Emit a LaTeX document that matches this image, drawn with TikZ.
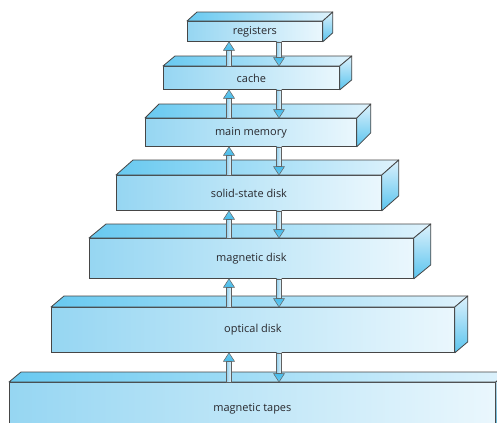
\documentclass[tikz,border=0pt]{standalone}
\usepackage{fontspec}
\setmainfont{Open Sans}
\usetikzlibrary{calc}
\definecolor{frontL}{RGB}{150,214,242}
\definecolor{frontR}{RGB}{234,247,253}
\definecolor{topL}{RGB}{104,201,240}
\definecolor{topR}{RGB}{222,242,252}
\definecolor{sideT}{RGB}{220,241,252}
\definecolor{sideB}{RGB}{90,196,238}
\definecolor{edge}{RGB}{70,70,70}
\definecolor{txt}{RGB}{40,40,45}
\definecolor{headblue}{RGB}{72,188,234}
\definecolor{shaftpale}{RGB}{232,244,250}
\definecolor{shaftblue}{RGB}{150,210,238}
\tikzset{
  front/.style={draw=edge, line width=0.8bp, left color=frontL, right color=frontR,
    inner sep=0pt, font=\fontsize{11}{13}\selectfont, text=txt, anchor=north west},
  topface/.style={draw=edge, line width=0.8bp, left color=topL, right color=topR, line join=round},
  sideface/.style={draw=edge, line width=0.8bp, top color=sideT, bottom color=sideB, line join=round},
  arrowbody/.style={draw=gray!75!black, line width=0.5bp, line join=miter},
}
% a box drawn as a front node plus its top and right faces
\newcommand{\slab}[8]{% name, left, top, width, height, dx, dy, label
  \node[front, minimum width=#4bp, minimum height=#5bp] (#1) at (#2,#3) {#8};
  \path[topface] (#1.north west) -- ++(#6,-#7) -- ($(#1.north east)+(#6,-#7)$) -- (#1.north east) -- cycle;
  \path[sideface] (#1.north east) -- ++(#6,-#7) -- ($(#1.south east)+(#6,-#7)$) -- (#1.south east) -- cycle;
}
% upward arrow from the lower slab to the upper slab: pale shaft, blue head
\newcommand{\uparr}[2]{%
  \path[arrowbody, left color=shaftblue, right color=shaftpale]
    let \p1=(#1.north -| upline), \p2=(#2.south -| upline) in
    (\x1-2.5bp,\y1) -- (\x1-2.5bp,\y2-8.5bp) -- (\x1+2.5bp,\y2-8.5bp) -- (\x1+2.5bp,\y1) -- cycle;
  \path[arrowbody, top color=headblue!80, bottom color=headblue]
    let \p1=(#1.north -| upline), \p2=(#2.south -| upline) in
    (\x1-5.5bp,\y2-8.5bp) -- (\x2,\y2) -- (\x1+5.5bp,\y2-8.5bp) -- cycle;
}
% downward arrow from the upper slab to the lower slab
\newcommand{\downarr}[2]{%
  \path[arrowbody, left color=shaftblue, right color=shaftpale]
    let \p1=(#1.south -| downline), \p2=(#2.north -| downline) in
    (\x1-2.5bp,\y1) -- (\x1-2.5bp,\y2+8.5bp) -- (\x1+2.5bp,\y2+8.5bp) -- (\x1+2.5bp,\y1) -- cycle;
  \path[arrowbody, top color=headblue, bottom color=headblue!80]
    let \p1=(#1.south -| downline), \p2=(#2.north -| downline) in
    (\x1-5.5bp,\y2+8.5bp) -- (\x2,\y2) -- (\x1+5.5bp,\y2+8.5bp) -- cycle;
}
\begin{document}
\begin{tikzpicture}[x=1bp, y=-1bp]
  \useasboundingbox (0,0) rectangle (497,422);
  \clip (0,0) rectangle (497,422);
  \fill[white] (0,0) rectangle (497,422);
  \coordinate (upline) at (229,0);
  \coordinate (downline) at (279,0);

  \slab{tapes}{9}{382}{486}{50}{12}{10}{\raisebox{-10bp}{magnetic tapes}}
  \slab{optical}{51}{307}{403}{45}{13}{11}{optical disk}
  \slab{magdisk}{89}{238}{324}{40}{17}{14}{magnetic disk}
  \slab{ssd}{116}{175}{265}{35}{17}{15}{solid-state disk}
  \slab{mainmem}{145}{118}{211}{28}{14}{14}{main memory}
  \slab{cache}{163}{66}{176}{23}{12}{10}{cache}
  \slab{regs}{187}{21}{135}{20}{10}{9}{registers}

  \uparr{cache}{regs}      \downarr{regs}{cache}
  \uparr{mainmem}{cache}   \downarr{cache}{mainmem}
  \uparr{ssd}{mainmem}     \downarr{mainmem}{ssd}
  \uparr{magdisk}{ssd}     \downarr{ssd}{magdisk}
  \uparr{optical}{magdisk} \downarr{magdisk}{optical}
  \uparr{tapes}{optical}   \downarr{optical}{tapes}
\end{tikzpicture}
\end{document}
